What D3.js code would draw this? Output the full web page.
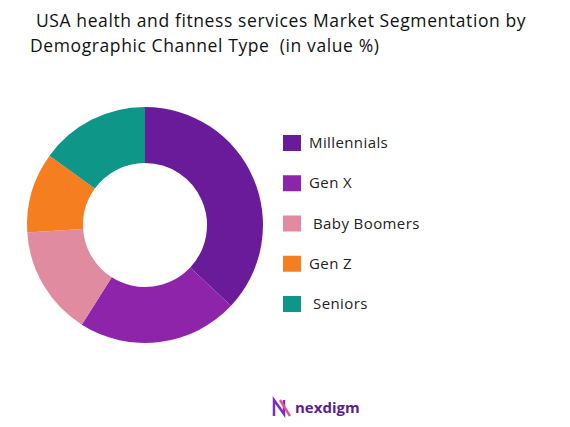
<!DOCTYPE html>
<html><head><meta charset="utf-8">
<script src="https://cdn.jsdelivr.net/npm/d3@7"></script>
<style>body{margin:0;background:#fff;font-family:"Open Sans",sans-serif;}</style>
</head><body>
<svg id="chart" width="570" height="427"></svg>
<script>
// Segment data (value %)
const categories = ['Millennials', 'Gen X', 'Baby Boomers', 'Gen Z', 'Seniors'];
const values = [37, 22, 15, 11, 15];
const legendLabels = ['Millennials', 'Gen X', ' Baby Boomers', 'Gen Z', ' Seniors'];
const palette = ['#6a1b9a', '#8e24aa', '#e08ba0', '#f57f20', '#0e9688'];

const svg = d3.select('#chart');

// Title
svg.append('text').attr('x', 36).attr('y', 27).attr('font-size', 17.5)
    .attr('letter-spacing', 0.6).attr('fill', '#111')
    .text('USA health and fitness services Market Segmentation by');
svg.append('text').attr('x', 30).attr('y', 52).attr('font-size', 17.5)
    .attr('letter-spacing', 0.6).attr('fill', '#111').attr('xml:space', 'preserve')
    .text('Demographic Channel Type  (in value %)');

// Donut
const pie = d3.pie().sort(null).value(d => d);
const arc = d3.arc().innerRadius(62).outerRadius(118);
const g = svg.append('g').attr('transform', 'translate(145,225)');
g.selectAll('path').data(pie(values)).enter().append('path')
    .attr('d', arc).attr('fill', (d, i) => palette[i]);

// Legend
const y = d3.scalePoint().domain(categories).range([143, 304]);
const legend = svg.append('g');
categories.forEach((c, i) => {
    legend.append('rect').attr('x', 283).attr('y', y(c) - 8).attr('width', 18).attr('height', 16)
        .attr('fill', palette[i]);
    legend.append('text').attr('x', legendLabels[i].startsWith(' ') ? 313 : 309).attr('y', y(c) + 5)
        .attr('font-size', 15).attr('letter-spacing', 0.4).attr('fill', '#222')
        .text(legendLabels[i].trim());
});

// Logo
const logo = svg.append('g').attr('transform', 'translate(272,398)');
logo.append('path').attr('d', 'M2,18 L2,2 L12,16 L12,2').attr('fill', 'none')
    .attr('stroke', '#7b2fbf').attr('stroke-width', 2.5);
logo.append('path').attr('d', 'M8,2 L18,18').attr('fill', 'none')
    .attr('stroke', '#e0559a').attr('stroke-width', 2.5);
svg.append('text').attr('x', 295).attr('y', 413).attr('font-size', 15).attr('font-weight', 'bold')
    .attr('fill', '#5b1f8f').text('nexdigm');
</script>
</body></html>
